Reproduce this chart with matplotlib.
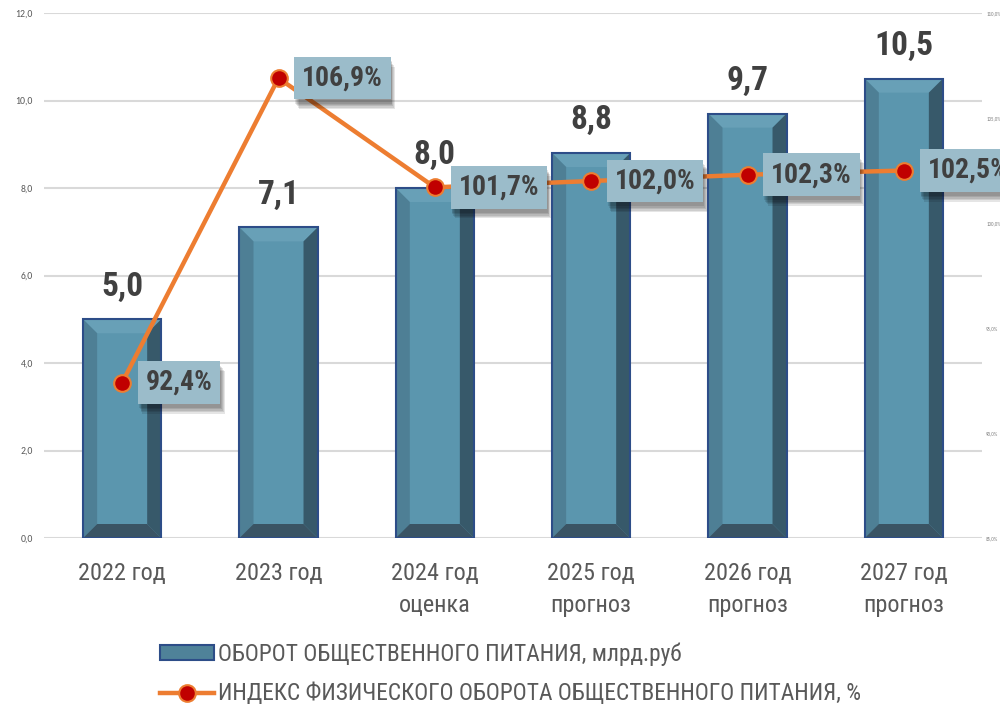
import matplotlib
matplotlib.use("Agg")
import matplotlib.pyplot as plt
import matplotlib.patheffects as pe
from matplotlib.patches import Polygon, Patch
from matplotlib.lines import Line2D
import numpy as np

plt.rcParams['font.family'] = ['Roboto Condensed', 'DejaVu Sans']

# data
categories = ["2022 год", "2023 год", "2024 год\nоценка", "2025 год\nпрогноз",
              "2026 год\nпрогноз", "2027 год\nпрогноз"]
turnover = [5.0, 7.1, 8.0, 8.8, 9.7, 10.5]          # млрд.руб
index_pct = [92.4, 106.9, 101.7, 102.0, 102.3, 102.5]  # %
left_ticks = [0, 2, 4, 6, 8, 10, 12]
right_ticks = [85, 90, 95, 100, 105, 110]

bar_label = "ОБОРОТ ОБЩЕСТВЕННОГО ПИТАНИЯ, млрд.руб"
line_label = "ИНДЕКС ФИЗИЧЕСКОГО ОБОРОТА ОБЩЕСТВЕННОГО ПИТАНИЯ, %"

# colours
face = "#5B96AE"
top_c = "#68A0B7"
left_c = "#4E7F95"
right_c = "#37596A"
bottom_c = "#3A5464"
edge = "#2D4D88"
orange = "#ED7D31"
red = "#C00000"
gray_txt = "#595959"
dark_txt = "#404040"

fig = plt.figure(figsize=(10, 7.08), dpi=100)
ax = fig.add_axes([0.044, 0.2401, 0.938, 0.7415])
x = np.arange(len(categories))
w = 0.5

ax.bar(x, turnover, width=w, color=face, zorder=2)

# bevel pieces
bx, by = 0.09, 0.32
for xi, h in zip(x, turnover):
    x0, x1 = xi - w / 2, xi + w / 2
    pieces = [
        ([(x0, h), (x1, h), (x1 - bx, h - by), (x0 + bx, h - by)], top_c),
        ([(x0, 0), (x0, h), (x0 + bx, h - by), (x0 + bx, by)], left_c),
        ([(x1, 0), (x1, h), (x1 - bx, h - by), (x1 - bx, by)], right_c),
        ([(x0, 0), (x1, 0), (x1 - bx, by), (x0 + bx, by)], bottom_c),
    ]
    for pts, c in pieces:
        ax.add_patch(Polygon(pts, closed=True, facecolor=c, edgecolor="none", zorder=3))
ax.bar(x, turnover, width=w, fill=False, edgecolor=edge, linewidth=1.5, zorder=4)

for xi, h in zip(x, turnover):
    ax.annotate(f"{h:.1f}".replace(".", ","), (xi, h), xytext=(0, 17),
                textcoords="offset points", ha="center", va="baseline",
                fontsize=24, fontweight="bold", color=dark_txt, zorder=6)

ax.set_xlim(-0.5, len(categories) - 0.5)
ax.set_ylim(0, 12)
ax.set_yticks(left_ticks)
ax.set_yticklabels([f"{v:.1f}".replace(".", ",") for v in left_ticks],
                   fontsize=7, color=gray_txt, family=['Carlito', 'DejaVu Sans'])
ax.set_xticks(x)
ax.set_xticklabels(categories, fontsize=17.5, color=gray_txt, linespacing=1.5)
ax.tick_params(axis="x", length=0, pad=17)
ax.tick_params(axis="y", length=0, pad=8)
ax.grid(axis="y", color="#D9D9D9", linewidth=1.5, zorder=0)
ax.set_axisbelow(True)
for s in ax.spines.values():
    s.set_visible(False)

# line on secondary axis
ax2 = ax.twinx()
ax2.plot(x, index_pct, color=orange, linewidth=3.2, marker="o", markersize=12,
         markerfacecolor=red, markeredgecolor=orange, markeredgewidth=1.5, zorder=5)
ax2.set_ylim(85, 110)
ax2.set_yticks(right_ticks)
ax2.set_yticklabels([f"{v:.1f}%".replace(".", ",") for v in right_ticks],
                    fontsize=3.5, color="#7F7F7F", family=['Carlito', 'DejaVu Sans'])
ax2.tick_params(axis="y", length=0, pad=3)
for s in ax2.spines.values():
    s.set_visible(False)

shadow = [pe.SimplePatchShadow(offset=(o * 0.6, -o - 2), shadow_rgbFace="black", alpha=0.1)
          for o in (1, 2, 3, 4, 5)]
for xi, p in zip(x, index_pct):
    t = ax2.annotate(f"{p:.1f}%".replace(".", ","), (xi, p), xytext=(17, 0),
                     textcoords="offset points", ha="left", va="center",
                     fontsize=20, fontweight="bold", color=dark_txt, zorder=7,
                     annotation_clip=False,
                     bbox=dict(boxstyle="square,pad=0.28", facecolor="#9BBCCA",
                               edgecolor="none"))
    t.get_bbox_patch().set_path_effects(shadow + [pe.Normal()])

# legend
handles = [
    Patch(facecolor="#4F8299", edgecolor=edge, linewidth=1.5),
    Line2D([0], [0], color=orange, linewidth=3.2, marker="o", markersize=12,
           markerfacecolor=red, markeredgecolor=orange, markeredgewidth=1.5),
]
fig.legend(handles, [bar_label, line_label], loc="upper left",
           bbox_to_anchor=(0.16, 0.093), frameon=False, fontsize=16.8,
           labelcolor=gray_txt, handlelength=2.3, handleheight=0.63,
           handletextpad=0.2, labelspacing=0.72, numpoints=1,
           borderaxespad=0, borderpad=0)

fig.savefig("out.png", dpi=100)
